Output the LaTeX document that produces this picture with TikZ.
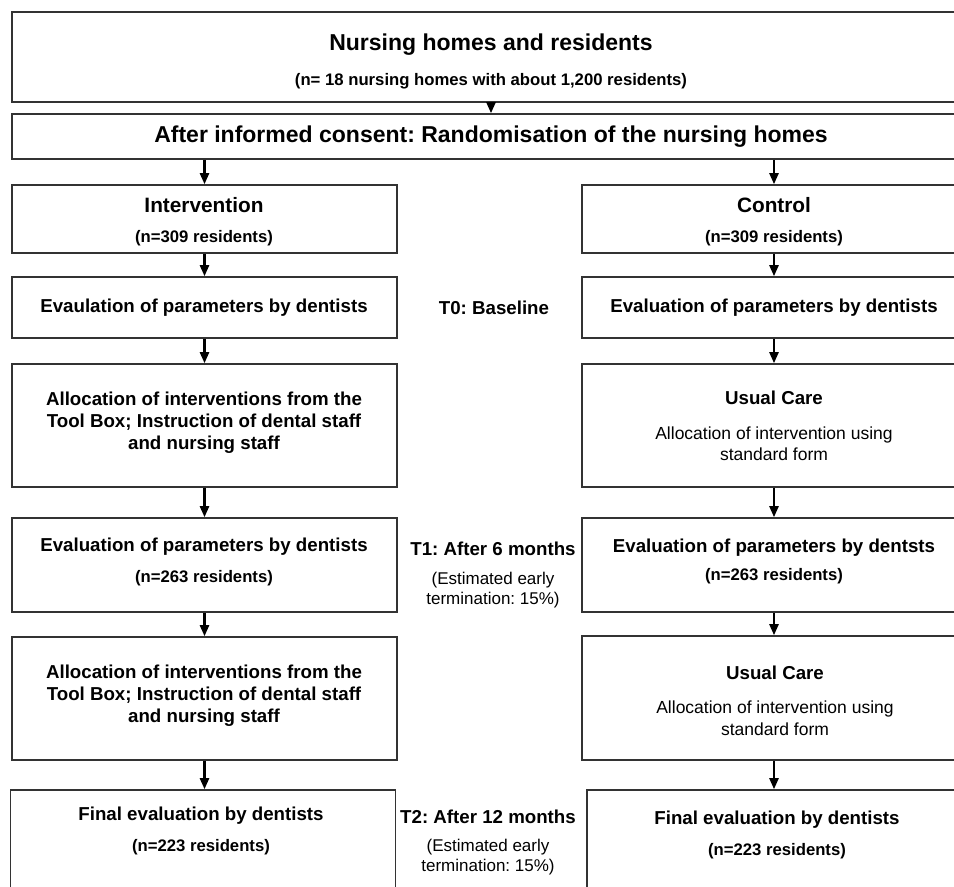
\documentclass[tikz,border=0pt]{standalone}
\usepackage{fontspec}
\setmainfont{Liberation Sans}
\usetikzlibrary{arrows.meta}
\frenchspacing

\tikzset{
  box/.style={draw=black!80, line width=1.6pt, inner sep=0pt},
  lbox/.style={box, minimum width=385pt},
  rbox/.style={box, minimum width=384pt},
  flow/.style={line width=2.3pt, -{Triangle[length=11pt,width=9pt]}},
  ttl/.style={font=\fontsize{23}{27}\selectfont\bfseries, inner sep=0pt},
  hd/.style={font=\fontsize{20.8}{25}\selectfont\bfseries, inner sep=0pt},
  bd/.style={font=\fontsize{18.7}{22}\selectfont\bfseries, inner sep=0pt, align=center},
  nn/.style={font=\fontsize{16.7}{20}\selectfont\bfseries, inner sep=0pt},
  rg/.style={font=\fontsize{17.5}{21.5}\selectfont, inner sep=0pt, align=center},
  est/.style={font=\fontsize{17}{20}\selectfont, inner sep=0pt, align=center},
}

\begin{document}
\begin{tikzpicture}[x=1pt, y=-1pt]
    \clip (0,0) rectangle (954,887);

    %% boxes
    \node[box, minimum width=958pt, minimum height=90pt] (homes) at (491,57) {};
    \node[box, minimum width=958pt, minimum height=45pt] (consent) at (491,136.5) {};

    \node[lbox, minimum height=68pt]  (interv)  at (204.5,219)   {};
    \node[lbox, minimum height=61pt]  (evalL)   at (204.5,307.5) {};
    \node[lbox, minimum height=123pt] (allocL)  at (204.5,425.5) {};
    \node[lbox, minimum height=94pt]  (tiL)     at (204.5,565)   {};
    \node[lbox, minimum height=123pt] (alloctwoL) at (204.5,698.5) {};
    \node[lbox, minimum height=110pt] (finL)    at (203,845)     {};

    \node[rbox, minimum height=68pt]  (control) at (774,219)   {};
    \node[rbox, minimum height=61pt]  (evalR)   at (774,307.5) {};
    \node[rbox, minimum height=123pt] (careR)   at (774,425.5) {};
    \node[rbox, minimum height=94pt]  (tiR)     at (774,565)   {};
    \node[rbox, minimum height=124pt] (caretwoR) at (774,698)  {};
    \node[box, minimum width=379pt, minimum height=110pt] (finR) at (776.5,845) {};

    %% texts
    \node[ttl] (homes-t) at (491,45) {Nursing homes and residents};
    \node[nn]  (homes-n) at (491,81) {(n= 18 nursing homes with about 1,200 residents)};
    \node[ttl] (consent-t) at (491,136.5) {After informed consent: Randomisation of the nursing homes};

    \node[hd] (interv-t) at (204,205) {Intervention};
    \node[nn] (interv-n) at (204,238) {(n=309 residents)};
    \node[hd] (control-t) at (774,205) {Control};
    \node[nn] (control-n) at (774,238) {(n=309 residents)};

    \node[bd] (evalL-t) at (204,308) {Evaulation of parameters by dentists};
    \node[bd] (evalR-t) at (774,308) {Evaluation of parameters by dentists};
    \node[bd] (tzero) at (494,308) {T0: Baseline};

    \node[bd] (allocL-t) at (204,423)
        {Allocation of interventions from the\\Tool Box; Instruction of dental staff\\and nursing staff};
    \node[bd] (careR-t) at (774,398) {Usual Care};
    \node[rg] (careR-s) at (774,443.5) {Allocation of intervention using\\standard form};

    \node[bd] (tiL-t) at (204,547) {Evaluation of parameters by dentists};
    \node[nn] (tiL-n) at (204,578) {(n=263 residents)};
    \node[bd] (tiR-t) at (774,548) {Evaluation of parameters by dentsts};
    \node[nn] (tiR-n) at (774,576) {(n=263 residents)};
    \node[bd]  (tone)   at (493,549) {T1: After 6 months};
    \node[est] (tone-s) at (493,590) {(Estimated early\\termination: 15\%)};

    \node[bd] (alloctwoL-t) at (204,695.5)
        {Allocation of interventions from the\\Tool Box; Instruction of dental staff\\and nursing staff};
    \node[bd] (caretwoR-t) at (775,673) {Usual Care};
    \node[rg] (caretwoR-s) at (775,718) {Allocation of intervention using\\standard form};

    \node[bd] (finL-t) at (201,816) {Final evaluation by dentists};
    \node[nn] (finL-n) at (201,847) {(n=223 residents)};
    \node[bd] (finR-t) at (777,820) {Final evaluation by dentists};
    \node[nn] (finR-n) at (777,851) {(n=223 residents)};
    \node[bd]  (ttwo)   at (488,817) {T2: After 12 months};
    \node[est] (ttwo-s) at (488,857) {(Estimated early\\termination: 15\%)};

    %% arrows
    \draw[flow] (homes.south) -- (consent.north);
    \draw[flow] (consent.south -| interv.north) -- (interv.north);
    \draw[flow] (consent.south -| control.north) -- (control.north);

    \draw[flow] (interv.south) -- (evalL.north);
    \draw[flow] (evalL.south) -- (allocL.north);
    \draw[flow] (allocL.south) -- (tiL.north);
    \draw[flow] (tiL.south) -- (alloctwoL.north);
    \draw[flow] (alloctwoL.south) -- (alloctwoL.south |- finL.north);

    \draw[flow] (control.south) -- (evalR.north);
    \draw[flow] (evalR.south) -- (careR.north);
    \draw[flow] (careR.south) -- (tiR.north);
    \draw[flow] (tiR.south) -- (caretwoR.north);
    \draw[flow] (caretwoR.south) -- (caretwoR.south |- finR.north);

\end{tikzpicture}
\end{document}
